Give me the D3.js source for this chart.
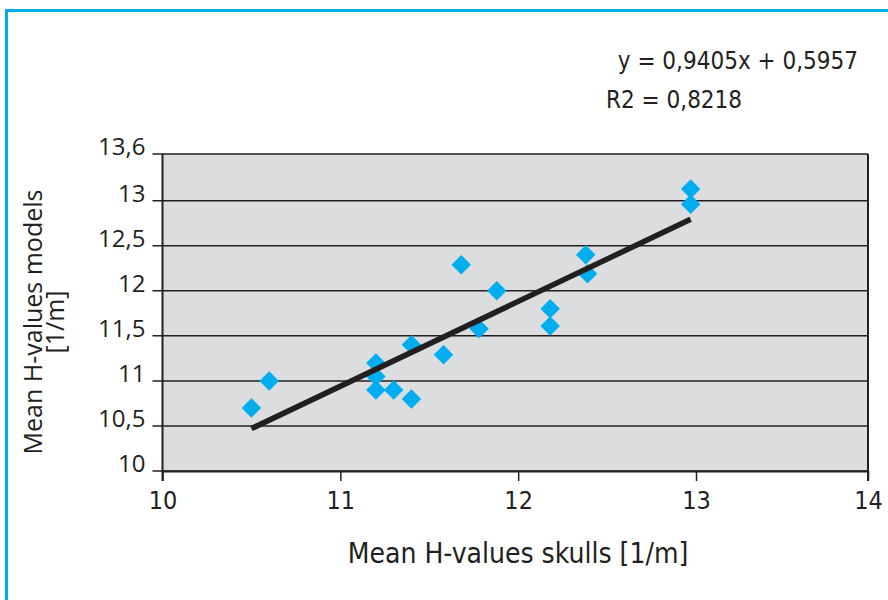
<!DOCTYPE html>
<html>
<head>
<meta charset="utf-8">
<script src="https://cdn.jsdelivr.net/npm/d3@7"></script>
<style>
  html, body { margin: 0; padding: 0; background: #fff; }
  svg { display: block; }
</style>
</head>
<body>
<svg id="chart" width="888" height="600"></svg>
<script>
// Mean H-values: skulls (x) against models (y), in 1/m
const skulls = [10.5, 10.6, 11.2, 11.2, 11.2, 11.3, 11.4, 11.4, 11.58, 11.68, 11.78, 11.88, 12.18, 12.18, 12.38, 12.39, 12.97, 12.97];
const models = [10.7, 11.0, 11.2, 11.05, 10.9, 10.9, 10.8, 11.4, 11.29, 12.29, 11.58, 12.0, 11.8, 11.61, 12.4, 12.19, 13.15, 12.96];

// Linear trend reported on the chart
const slope = 0.9405;
const intercept = 0.5957;
const r2 = 0.8218;

const xTicks = [10, 11, 12, 13, 14];
const yTicks = [10, 10.5, 11, 11.5, 12, 12.5, 13, 13.6];

const xLabel = "Mean H-values skulls [1/m]";
const yLabel = ["Mean H-values models", "[1/m]"];

const fmt = v => String(v).replace(".", ",");

const svg = d3.select("#chart");
const W = 888, H = 600;

const plot = { left: 162.5, right: 868, top: 154, bottom: 471 };

// the axes are drawn piecewise: the last interval on each axis is drawn shorter
const x = d3.scaleLinear()
  .domain([10, 13, 14])
  .range([plot.left, 696, plot.right]);
const y = d3.scaleLinear()
  .domain([10, 13, 13.6])
  .range([plot.bottom, 200.7, plot.top]);

const ink = "#231f20";
const blue = "#00aeef";
const narrow = "'Liberation Sans Narrow', 'DejaVu Sans Condensed', 'Liberation Sans', sans-serif";
const regular = "'Open Sans', 'Noto Sans', 'DejaVu Sans', sans-serif";

// outer frame (top and left edges)
svg.append("path")
  .attr("d", `M6.5,${H} L6.5,10.5 L${W},10.5`)
  .attr("fill", "none")
  .attr("stroke", blue)
  .attr("stroke-width", 3);

// plot background
svg.append("rect")
  .attr("x", plot.left).attr("y", plot.top)
  .attr("width", plot.right - plot.left)
  .attr("height", plot.bottom - plot.top)
  .attr("fill", "#dcdddf");

// horizontal gridlines with left tick marks
svg.append("g").selectAll("line")
  .data(yTicks)
  .join("line")
  .attr("x1", plot.left - 10).attr("x2", plot.right)
  .attr("y1", d => y(d)).attr("y2", d => y(d))
  .attr("stroke", ink).attr("stroke-width", 1.5);

// y tick labels
svg.append("g").selectAll("text")
  .data(yTicks)
  .join("text")
  .attr("x", plot.left - 17)
  .attr("y", d => y(d))
  .attr("dy", "0.05em")
  .attr("text-anchor", "end")
  .attr("font-family", regular)
  .attr("font-size", 24)
  .attr("fill", ink)
  .text(fmt);

// x axis via d3.axisBottom
const xAxis = d3.axisBottom(x)
  .tickValues(xTicks)
  .tickSize(10)
  .tickSizeOuter(0)
  .tickPadding(10)
  .tickFormat(fmt);

const gx = svg.append("g")
  .attr("transform", `translate(0,${plot.bottom})`)
  .call(xAxis);
gx.select(".domain").attr("stroke", ink).attr("stroke-width", 2);
gx.selectAll(".tick line").attr("stroke", ink).attr("stroke-width", 1.5);
gx.selectAll(".tick text")
  .attr("font-family", narrow)
  .attr("font-size", 25)
  .attr("fill", ink);

// left and right plot edges
svg.append("line")
  .attr("x1", plot.left).attr("x2", plot.left)
  .attr("y1", plot.top).attr("y2", plot.bottom + 10)
  .attr("stroke", ink).attr("stroke-width", 2);
svg.append("line")
  .attr("x1", plot.right).attr("x2", plot.right)
  .attr("y1", plot.top).attr("y2", plot.bottom + 10)
  .attr("stroke", ink).attr("stroke-width", 2);

// data points as diamonds
svg.append("g").selectAll("path")
  .data(skulls.map((s, i) => [s, models[i]]))
  .join("path")
  .attr("d", d3.symbol(d3.symbolSquare, 190)())
  .attr("transform", d => `translate(${x(d[0])},${y(d[1])}) rotate(45)`)
  .attr("fill", blue);

// trend line across the range of skull values
const [xMin, xMax] = d3.extent(skulls);
svg.append("line")
  .attr("x1", x(xMin)).attr("y1", y(slope * xMin + intercept))
  .attr("x2", x(xMax)).attr("y2", y(slope * xMax + intercept))
  .attr("stroke", ink)
  .attr("stroke-width", 5.5);

// equation and R²
svg.append("text")
  .attr("x", 858).attr("y", 69)
  .attr("text-anchor", "end")
  .attr("font-family", narrow)
  .attr("font-size", 24)
  .attr("fill", ink)
  .text(`y = ${fmt(slope)}x + ${fmt(intercept)}`);
svg.append("text")
  .attr("x", 606).attr("y", 108)
  .attr("font-family", narrow)
  .attr("font-size", 24)
  .attr("fill", ink)
  .text(`R2 = ${fmt(r2)}`);

// axis titles
svg.append("text")
  .attr("x", 518).attr("y", 563)
  .attr("text-anchor", "middle")
  .attr("font-family", narrow)
  .attr("font-size", 28)
  .attr("fill", ink)
  .text(xLabel);

const yt = svg.append("text")
  .attr("transform", "translate(42,322) rotate(-90)")
  .attr("text-anchor", "middle")
  .attr("font-family", regular)
  .attr("font-size", 25)
  .attr("fill", ink);
yt.append("tspan").attr("x", 0).attr("y", 0).text(yLabel[0]);
yt.append("tspan").attr("x", 0).attr("y", 22).text(yLabel[1]);
</script>
</body>
</html>
